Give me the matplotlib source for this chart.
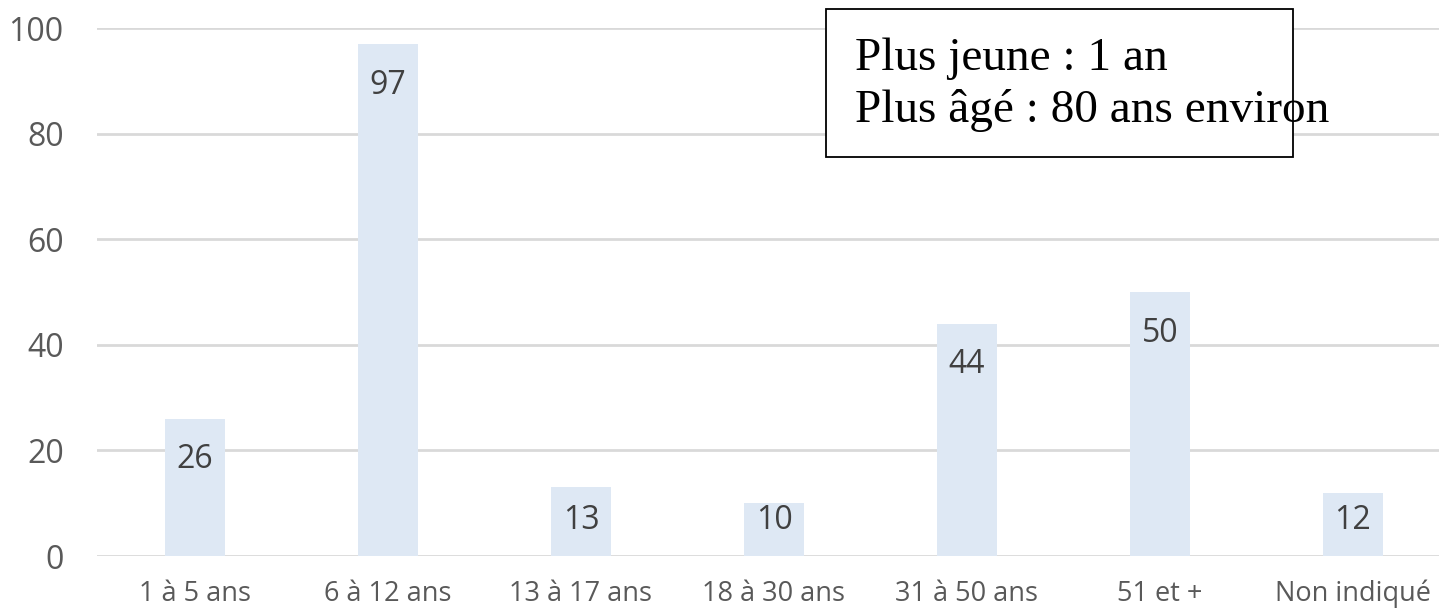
import matplotlib.pyplot as plt
from matplotlib.patches import Rectangle

# Data
categories = ['1 à 5 ans', '6 à 12 ans', '13 à 17 ans', '18 à 30 ans',
              '31 à 50 ans', '51 et +', 'Non indiqué']
counts = [26, 97, 13, 10, 44, 50, 12]
y_ticks = [0, 20, 40, 60, 80, 100]
note_lines = ['Plus jeune : 1 an', 'Plus âgé : 80 ans environ']

plt.rcParams['font.family'] = ['Open Sans', 'DejaVu Sans']

fig = plt.figure(figsize=(14.39, 6.12), dpi=100)
ax = fig.add_axes([0.0674, 0.0915, 0.9326, 0.8627])

x = range(len(categories))
bars = ax.bar(x, counts, width=0.31, color='#dee8f4', zorder=2)

# Value labels inside the top of each bar (kept above the baseline for short bars)
for bar, v in zip(bars, counts):
    ax.text(bar.get_x() + bar.get_width() / 2, max(v - 7.8, 6.8), str(v),
            ha='center', va='center', fontsize=23, color='#404040')

ax.set_xlim(-0.508, 6.446)
ax.set_ylim(0, 100)
ax.set_yticks(y_ticks)
ax.set_xticks(list(x))
ax.set_xticklabels(categories, fontsize=19.5, color='#595959')
ax.tick_params(axis='y', labelsize=23, labelcolor='#595959', length=0, pad=24)
ax.tick_params(axis='x', length=0, pad=17)
ax.yaxis.grid(True, color='#d9d9d9', linewidth=2, zorder=0)
ax.set_axisbelow(True)
for s in ax.spines.values():
    s.set_visible(False)

# Note box
fig.patches.append(Rectangle((0.574, 0.7435), 0.3245, 0.2415, transform=fig.transFigure,
                             facecolor='white', edgecolor='black', linewidth=1.3, zorder=5))
fig.text(0.594, 0.8856, note_lines[0], family='Liberation Serif', fontsize=34,
         va='baseline', ha='left', color='black', zorder=6)
fig.text(0.594, 0.8007, note_lines[1], family='Liberation Serif', fontsize=34,
         va='baseline', ha='left', color='black', zorder=6)

fig.savefig('out.png', dpi=100)
